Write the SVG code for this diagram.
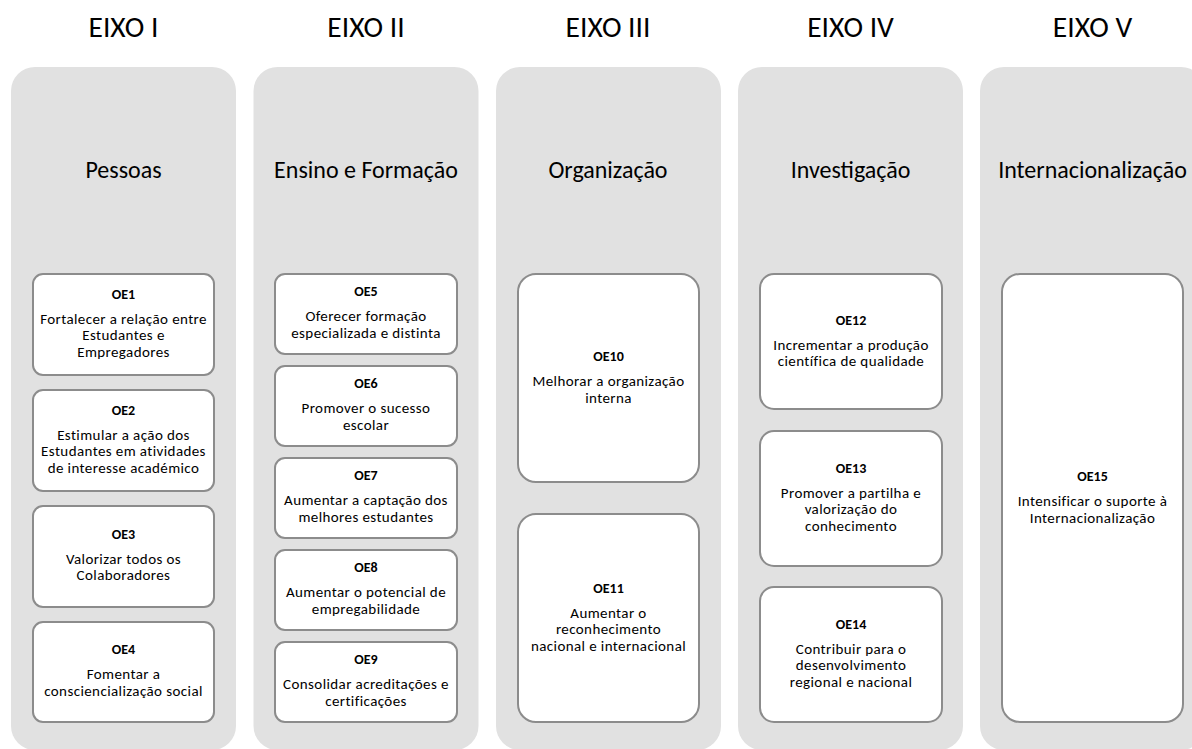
<svg xmlns="http://www.w3.org/2000/svg" width="1192" height="749" viewBox="0 0 1192 749">
<style>
.panel{fill:#e1e1e1;}
.box{fill:#ffffff;stroke:#8c8c8c;stroke-width:2;}
text{font-family:Carlito,Lato,"Open Sans",sans-serif;fill:#000;text-anchor:middle;}
.eixo{font-size:29.5px;}
.sub{font-size:24px;}
.oe{font-size:14px;font-weight:bold;}
.t{font-size:15px;letter-spacing:0.4px;}
</style>
<rect width="1192" height="749" fill="#ffffff"/>
<g id="axis1">
<text class="eixo" x="123.5" y="37">EIXO I</text>
<rect class="panel" x="11" y="67" width="225" height="683" rx="24"/>
<text class="sub" x="123.5" y="178">Pessoas</text>
</g>
<g id="axis2">
<text class="eixo" x="366" y="37">EIXO II</text>
<rect class="panel" x="253.5" y="67" width="225" height="683" rx="24"/>
<text class="sub" x="366" y="178">Ensino e Formação</text>
</g>
<g id="axis3">
<text class="eixo" x="608" y="37">EIXO III</text>
<rect class="panel" x="496" y="67" width="225" height="683" rx="24"/>
<text class="sub" x="608" y="178">Organização</text>
</g>
<g id="axis4">
<text class="eixo" x="850.5" y="37">EIXO IV</text>
<rect class="panel" x="738" y="67" width="225" height="683" rx="24"/>
<text class="sub" x="850.5" y="178">Investigação</text>
</g>
<g id="axis5">
<text class="eixo" x="1092.5" y="37">EIXO V</text>
<rect class="panel" x="980" y="67" width="225" height="683" rx="24"/>
<text class="sub" x="1092.5" y="178">Internacionalização</text>
</g>

<g id="OE1">
<rect class="box" x="33" y="274" width="181" height="101" rx="10"/>
<text class="oe" x="123.5" y="298.5">OE1</text>
<text class="t" x="123.5" y="323.5">Fortalecer a relação entre</text>
<text class="t" x="123.5" y="340">Estudantes e</text>
<text class="t" x="123.5" y="356.5">Empregadores</text>
</g>
<g id="OE2">
<rect class="box" x="33" y="390" width="181" height="101" rx="10"/>
<text class="oe" x="123.5" y="414.5">OE2</text>
<text class="t" x="123.5" y="439.5">Estimular a ação dos</text>
<text class="t" x="123.5" y="456">Estudantes em atividades</text>
<text class="t" x="123.5" y="472.5">de interesse académico</text>
</g>
<g id="OE3">
<rect class="box" x="33" y="506" width="181" height="101" rx="10"/>
<text class="oe" x="123.5" y="538.75">OE3</text>
<text class="t" x="123.5" y="563.75">Valorizar todos os</text>
<text class="t" x="123.5" y="580.25">Colaboradores</text>
</g>
<g id="OE4">
<rect class="box" x="33" y="622" width="181" height="100" rx="10"/>
<text class="oe" x="123.5" y="654.25">OE4</text>
<text class="t" x="123.5" y="679.25">Fomentar a</text>
<text class="t" x="123.5" y="695.75">consciencialização social</text>
</g>

<g id="OE5">
<rect class="box" x="275" y="274" width="182" height="80" rx="10"/>
<text class="oe" x="366" y="296.25">OE5</text>
<text class="t" x="366" y="321.25">Oferecer formação</text>
<text class="t" x="366" y="337.75">especializada e distinta</text>
</g>
<g id="OE6">
<rect class="box" x="275" y="366" width="182" height="80" rx="10"/>
<text class="oe" x="366" y="388.25">OE6</text>
<text class="t" x="366" y="413.25">Promover o sucesso</text>
<text class="t" x="366" y="429.75">escolar</text>
</g>
<g id="OE7">
<rect class="box" x="275" y="458" width="182" height="80" rx="10"/>
<text class="oe" x="366" y="480.25">OE7</text>
<text class="t" x="366" y="505.25">Aumentar a captação dos</text>
<text class="t" x="366" y="521.75">melhores estudantes</text>
</g>
<g id="OE8">
<rect class="box" x="275" y="550" width="182" height="80" rx="10"/>
<text class="oe" x="366" y="572.25">OE8</text>
<text class="t" x="366" y="597.25">Aumentar o potencial de</text>
<text class="t" x="366" y="613.75">empregabilidade</text>
</g>
<g id="OE9">
<rect class="box" x="275" y="642" width="182" height="80" rx="10"/>
<text class="oe" x="366" y="664.25">OE9</text>
<text class="t" x="366" y="689.25">Consolidar acreditações e</text>
<text class="t" x="366" y="705.75">certificações</text>
</g>

<g id="OE10">
<rect class="box" x="518" y="274" width="181" height="208" rx="18"/>
<text class="oe" x="608.5" y="361">OE10</text>
<text class="t" x="608.5" y="386">Melhorar a organização</text>
<text class="t" x="608.5" y="402.5">interna</text>
</g>
<g id="OE11">
<rect class="box" x="518" y="514" width="181" height="208" rx="18"/>
<text class="oe" x="608.5" y="592.5">OE11</text>
<text class="t" x="608.5" y="617.5">Aumentar o</text>
<text class="t" x="608.5" y="634">reconhecimento</text>
<text class="t" x="608.5" y="650.5">nacional e internacional</text>
</g>

<g id="OE12">
<rect class="box" x="760" y="274" width="182" height="135" rx="14"/>
<text class="oe" x="851" y="324.5">OE12</text>
<text class="t" x="851" y="349.5">Incrementar a produção</text>
<text class="t" x="851" y="366">científica de qualidade</text>
</g>
<g id="OE13">
<rect class="box" x="760" y="431" width="182" height="135" rx="14"/>
<text class="oe" x="851" y="472.5">OE13</text>
<text class="t" x="851" y="497.5">Promover a partilha e</text>
<text class="t" x="851" y="514">valorização do</text>
<text class="t" x="851" y="530.5">conhecimento</text>
</g>
<g id="OE14">
<rect class="box" x="760" y="587" width="182" height="135" rx="14"/>
<text class="oe" x="851" y="628.5">OE14</text>
<text class="t" x="851" y="653.5">Contribuir para o</text>
<text class="t" x="851" y="670">desenvolvimento</text>
<text class="t" x="851" y="686.5">regional e nacional</text>
</g>

<g id="OE15">
<rect class="box" x="1002" y="274" width="181" height="448" rx="18"/>
<text class="oe" x="1092.5" y="481">OE15</text>
<text class="t" x="1092.5" y="506">Intensificar o suporte à</text>
<text class="t" x="1092.5" y="522.5">Internacionalização</text>
</g>
<g id="connectors"></g>
</svg>
